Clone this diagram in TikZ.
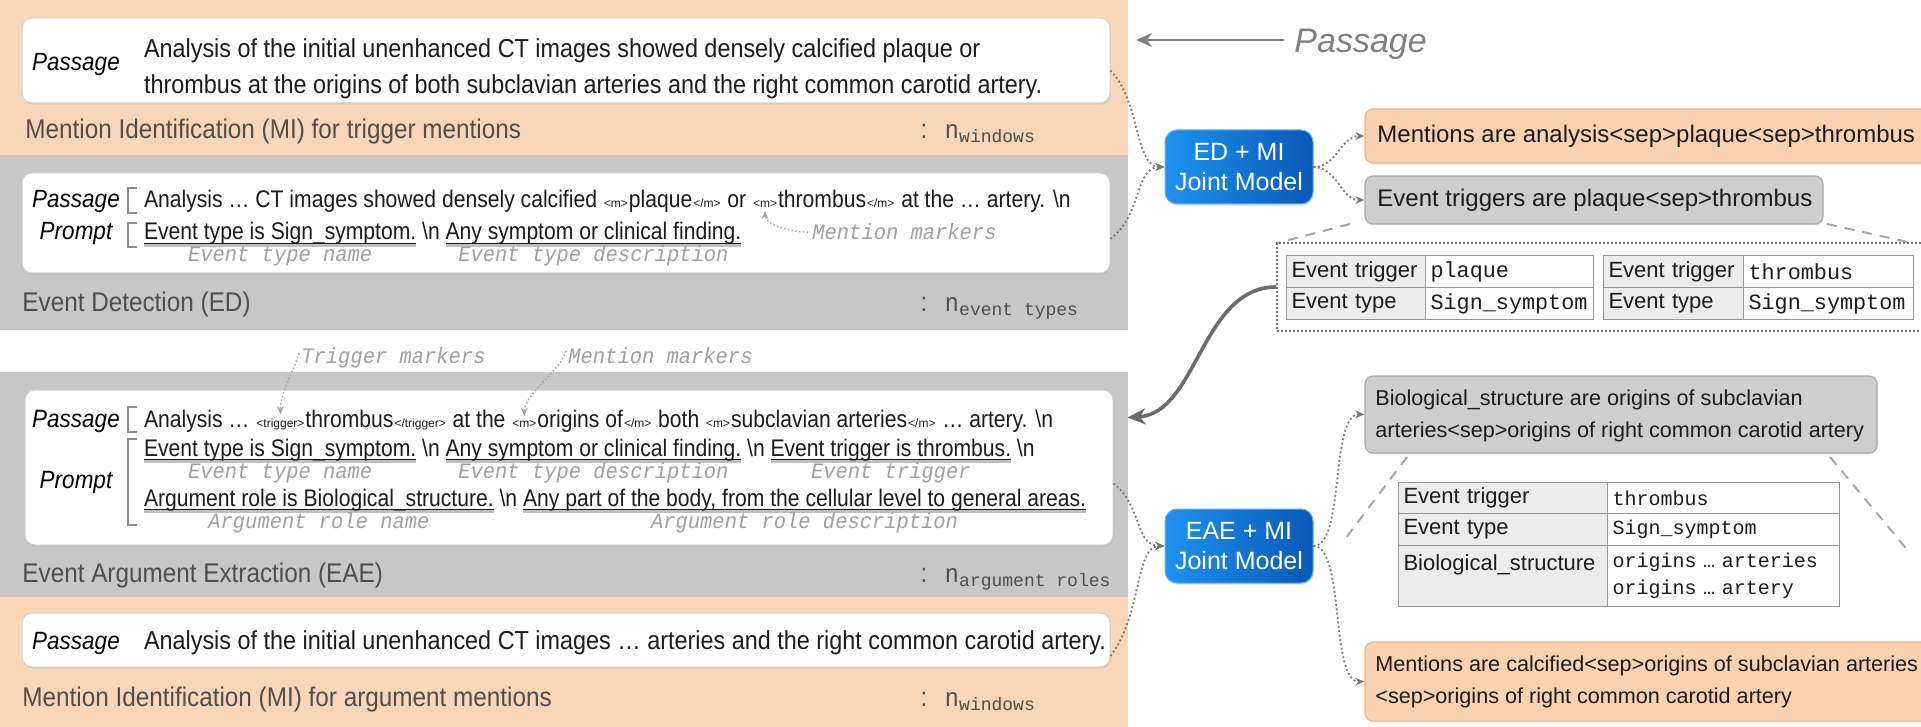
\documentclass[tikz,border=0pt]{standalone}
\usepackage{fontspec}
\setmainfont{Liberation Sans}
\newfontfamily\lfam[FakeStretch=0.9]{Liberation Sans}
\newfontfamily\lfamb[FakeStretch=0.88]{Liberation Sans}
\newfontfamily\rfam{Liberation Sans}
\newfontfamily\mfam{Liberation Mono}
\newfontfamily\afam[FakeStretch=0.93]{Liberation Mono}
\usetikzlibrary{arrows.meta,fit,shadows}

\definecolor{peach}{RGB}{249,214,184}
\definecolor{pgray}{RGB}{199,199,199}
\definecolor{txt}{RGB}{28,28,28}
\definecolor{hdrc}{RGB}{78,78,78}
\definecolor{annot}{RGB}{160,160,160}
\definecolor{blueL}{RGB}{30,146,240}
\definecolor{blueR}{RGB}{10,88,182}
\definecolor{resO}{RGB}{250,210,176}
\definecolor{resOb}{RGB}{236,182,142}
\definecolor{resG}{RGB}{206,206,206}
\definecolor{resGb}{RGB}{172,172,172}
\definecolor{cellhdr}{RGB}{236,236,236}
\definecolor{cellline}{RGB}{150,150,150}
\definecolor{conn}{RGB}{118,118,118}

\newcommand\myLt{\lfam\fontsize{13}{16}\selectfont}
\newcommand\myLs{\lfamb\fontsize{12}{15}\selectfont}
\newcommand\myTg{\rfam\fontsize{6}{7}\selectfont}
\newcommand\myAl{\afam\itshape\fontsize{11}{13}\selectfont}
\newcommand\myPl{\lfam\itshape\fontsize{12.5}{15}\selectfont}
\newcommand\myHd{\lfam\fontsize{13.5}{16}\selectfont}
\newcommand\mySb{\mfam\fontsize{9}{10}\selectfont}
\newcommand\myRt{\rfam\fontsize{12}{15}\selectfont}
\newcommand\myRs{\rfam\fontsize{10.8}{16}\selectfont}
\newcommand\myTh{\rfam\fontsize{11}{13.5}\selectfont}
\newcommand\myTv{\mfam\fontsize{10.9}{13.5}\selectfont}
\newcommand\myTvs{\mfam\fontsize{10}{13.5}\selectfont}
\newcommand\myBt{\rfam\fontsize{12.5}{15}\selectfont}
\newcommand\myPs{\rfam\itshape\fontsize{17}{20}\selectfont}
\newcommand\mygap{2.9pt}

\tikzset{
  seg/.style={anchor=base west, inner sep=0pt, outer sep=0pt, font=\myLt, text=txt},
  sg/.style={anchor=base west, inner sep=0pt, outer sep=0pt, font=\myLs, text=txt},
  tg/.style={anchor=base west, inner xsep=0.5pt, inner ysep=0pt, outer sep=0pt, font=\myTg, text=txt},
  lbl/.style={anchor=base, inner sep=0pt, font=\myAl, text=annot},
  albl/.style={anchor=base west, inner sep=0pt, font=\myAl, text=annot},
  plbl/.style={anchor=base, inner sep=0pt, font=\myPl, text=black},
  hdr/.style={anchor=base west, inner sep=0pt, font=\myHd, text=hdrc},
  nlbl/.style={anchor=base west, inner sep=0pt, font=\myLt, text=hdrc},
  sublbl/.style={anchor=base west, inner sep=0pt, font=\mySb, text=hdrc},
  colonlbl/.style={anchor=base, inner sep=0pt, font=\myHd, text=hdrc},
  wbox/.style={fill=white, draw=black!18, line width=0.5pt, rounded corners=5pt, inner sep=0pt,
    drop shadow={opacity=0.18, shadow xshift=0.4pt, shadow yshift=-0.8pt}},
  bluebox/.style={rounded corners=6pt, inner sep=0pt, left color=blueL, right color=blueR,
    draw=blueL!70!white, line width=0.5pt, drop shadow={opacity=0.25, shadow xshift=0.5pt, shadow yshift=-0.8pt}},
  bluetxt/.style={inner sep=0pt, align=center, font=\myBt, text=white},
  obox/.style={fill=resO, draw=resOb, line width=0.6pt, rounded corners=4pt, inner sep=0pt,
    drop shadow={opacity=0.15, shadow xshift=0.4pt, shadow yshift=-0.7pt}},
  gbox/.style={fill=resG, draw=resGb, line width=0.6pt, rounded corners=4pt, inner sep=0pt,
    drop shadow={opacity=0.15, shadow xshift=0.4pt, shadow yshift=-0.7pt}},
  rtxt/.style={anchor=west, inner sep=0pt, font=\myRt, text=txt},
  rstxt/.style={anchor=west, inner sep=0pt, align=left, font=\myRs, text=txt},
  dotbox/.style={draw=black!55, line width=0.8pt, dash pattern=on 0.8pt off 1.2pt, inner sep=0pt},
  hcell/.style={draw=cellline, fill=cellhdr, line width=0.5pt, anchor=north west, inner xsep=2.5pt,
    inner ysep=0pt, align=left, font=\myTh, text=txt},
  vcell/.style={draw=cellline, fill=white, line width=0.5pt, anchor=north west, inner xsep=2.5pt,
    inner ysep=0pt, align=left, font=\myTv, text=txt},
  dconn/.style={draw=conn, line width=0.9pt, dash pattern=on 0.9pt off 1.3pt, -{Stealth[length=4.5pt,width=3.8pt]}},
  sarrow/.style={draw=black!58, line width=1.8pt, -{Stealth[length=9pt,width=8pt]}},
  parrow/.style={draw=black!50, line width=1.4pt, -{Stealth[length=8pt,width=7pt]}},
  zline/.style={draw=black!35, line width=1pt, dash pattern=on 5pt off 4pt},
  aarrow/.style={draw=annot, line width=0.7pt, dash pattern=on 0.7pt off 1.2pt, -{Stealth[length=4pt,width=3.2pt]}},
  brk/.style={draw=black!45, line width=0.7pt},
  shd/.style={draw=black!50, line width=1.4pt, opacity=0.5},
  uln/.style={draw=txt, line width=0.5pt},
}

\begin{document}
\begin{tikzpicture}[x=0.5pt,y=-0.5pt]
\useasboundingbox (0,0) rectangle (1921,727);
\fill[white] (0,0) rectangle (1921,727);

% ---------------- left panels
\fill[peach] (0,0) rectangle (1128,155);
\fill[pgray] (0,155) rectangle (1128,330);
\fill[pgray] (0,372) rectangle (1128,597);
\fill[peach] (0,597) rectangle (1128,727);

\node[wbox, fit={(22,18) (1110,103)}] (b1) {};
\node[wbox, fit={(22,173) (1110,273)}] (b2) {};
\node[wbox, fit={(25,390) (1113,545)}] (b3) {};
\node[wbox, fit={(22,613) (1110,667)}] (b4) {};

% ---- box 1 (MI trigger)
\node[plbl] (pl1) at (76,71) {Passage};
\node[seg] (p1a) at (144,58) {Analysis of the initial unenhanced CT images showed densely calcified plaque or};
\node[seg] (p1b) at (144,94) {thrombus at the origins of both subclavian arteries and the right common carotid artery.};
\node[hdr] (mi1) at (25,139) {Mention Identification (MI) for trigger mentions};
\node[colonlbl] (c1) at (924,139) {:};
\node[nlbl] (n1) at (945,139) {n};
\node[sublbl] (s1) at ([yshift=-2pt]n1.base east) {windows};

% ---- box 2 (ED)
\node[plbl] (pl2) at (76,208) {Passage};
\node[plbl] (pr2) at (76,240) {Prompt};
\draw[brk] (137,188) -- (128,188) -- (128,213) -- (137,213);
\draw[brk] (137,223) -- (128,223) -- (128,247) -- (137,247);
\node[sg] (e1) at (144,208) {Analysis … CT images showed densely calcified};
\node[tg] (e2) at ([xshift=\mygap]e1.base east) {<m>};
\node[sg] (e3) at (e2.base east) {plaque};
\node[tg] (e4) at (e3.base east) {</m>};
\node[sg] (e5) at ([xshift=\mygap]e4.base east) {or};
\node[tg] (e6) at ([xshift=\mygap]e5.base east) {<m>};
\node[sg] (e7) at (e6.base east) {thrombus};
\node[tg] (e8) at (e7.base east) {</m>};
\node[sg] (e9) at ([xshift=\mygap]e8.base east) {at the … artery. \textbackslash n};
\node[sg] (f1) at (144,240) {Event type is Sign\_symptom.};
\node[sg] (f2) at ([xshift=\mygap]f1.base east) {\textbackslash n};
\node[sg] (f3) at ([xshift=\mygap]f2.base east) {Any symptom or clinical finding.};
\foreach \u in {f1,f3} {
  \draw[shd] ([yshift=-2.7pt]\u.base west) -- ([yshift=-2.7pt]\u.base east);
  \draw[uln] ([yshift=-1.6pt]\u.base west) -- ([yshift=-1.6pt]\u.base east);
}
\node[lbl] (g1) at ([yshift=-11pt]f1.base) {Event type name};
\node[lbl] (g2) at ([yshift=-11pt]f3.base) {Event type description};
\node[albl] (g3) at (812,240) {Mention markers};
\draw[aarrow] ([xshift=-2pt]g3.west) .. controls +(-16,0) and +(0,14) .. ([yshift=-1.5pt]e6.south);
\node[hdr] (ed) at (22,311) {Event Detection (ED)};
\node[colonlbl] (c2) at (924,311) {:};
\node[nlbl] (n2) at (945,311) {n};
\node[sublbl] (s2) at ([yshift=-2pt]n2.base east) {event types};

% ---- gap annotations
\node[albl] (tm) at (301,363) {Trigger markers};
\node[albl] (mm) at (568,363) {Mention markers};

% ---- box 3 (EAE)
\node[plbl] (pl3) at (76,427) {Passage};
\node[plbl] (pr3) at (76,488) {Prompt};
\draw[brk] (137,407) -- (128,407) -- (128,432) -- (137,432);
\draw[brk] (137,439) -- (128,439) -- (128,525) -- (137,525);
\node[sg] (h1) at (144,427) {Analysis …};
\node[tg] (h2) at ([xshift=\mygap]h1.base east) {<trigger>};
\node[sg] (h3) at (h2.base east) {thrombus};
\node[tg] (h4) at (h3.base east) {</trigger>};
\node[sg] (h5) at ([xshift=\mygap]h4.base east) {at the};
\node[tg] (h6) at ([xshift=\mygap]h5.base east) {<m>};
\node[sg] (h7) at (h6.base east) {origins of};
\node[tg] (h8) at (h7.base east) {</m>};
\node[sg] (h9) at ([xshift=\mygap]h8.base east) {both};
\node[tg] (h10) at ([xshift=\mygap]h9.base east) {<m>};
\node[sg] (h11) at (h10.base east) {subclavian arteries};
\node[tg] (h12) at (h11.base east) {</m>};
\node[sg] (h13) at ([xshift=\mygap]h12.base east) {… artery. \textbackslash n};
\draw[aarrow] ([xshift=-1pt,yshift=2pt]tm.west) .. controls +(-6,20) and +(0,-22) .. ([yshift=2pt]h2.north);
\draw[aarrow] ([xshift=-1pt,yshift=2pt]mm.west) .. controls +(-6,20) and +(0,-22) .. ([yshift=2pt]h6.north);

\node[sg] (k1) at (144,456) {Event type is Sign\_symptom.};
\node[sg] (k2) at ([xshift=\mygap]k1.base east) {\textbackslash n};
\node[sg] (k3) at ([xshift=\mygap]k2.base east) {Any symptom or clinical finding.};
\node[sg] (k4) at ([xshift=\mygap]k3.base east) {\textbackslash n};
\node[sg] (k5) at ([xshift=\mygap]k4.base east) {Event trigger is thrombus.};
\node[sg] (k6) at ([xshift=\mygap]k5.base east) {\textbackslash n};
\node[sg] (k7) at (144,506) {Argument role is Biological\_structure.};
\node[sg] (k8) at ([xshift=\mygap]k7.base east) {\textbackslash n};
\node[sg] (k9) at ([xshift=\mygap]k8.base east) {Any part of the body, from the cellular level to general areas.};
\foreach \u in {k1,k3,k5,k7,k9} {
  \draw[shd] ([yshift=-2.7pt]\u.base west) -- ([yshift=-2.7pt]\u.base east);
  \draw[uln] ([yshift=-1.6pt]\u.base west) -- ([yshift=-1.6pt]\u.base east);
}
\node[lbl] (q1) at ([yshift=-11pt]k1.base) {Event type name};
\node[lbl] (q2) at ([yshift=-11pt]k3.base) {Event type description};
\node[lbl] (q3) at ([yshift=-11pt]k5.base) {Event trigger};
\node[lbl] (q4) at ([yshift=-11pt]k7.base) {Argument role name};
\node[lbl] (q5) at ([yshift=-11pt]k9.base) {Argument role description};
\node[hdr] (eae) at (22,582) {Event Argument Extraction (EAE)};
\node[colonlbl] (c3) at (924,582) {:};
\node[nlbl] (n3) at (945,582) {n};
\node[sublbl] (s3) at ([yshift=-2pt]n3.base east) {argument roles};

% ---- box 4 (MI argument)
\node[plbl] (pl4) at (76,649) {Passage};
\node[seg] (p4) at (144,649) {Analysis of the initial unenhanced CT images … arteries and the right common carotid artery.};
\node[hdr] (mi2) at (22,706) {Mention Identification (MI) for argument mentions};
\node[colonlbl] (c4) at (924,706) {:};
\node[nlbl] (n4) at (945,706) {n};
\node[sublbl] (s4) at ([yshift=-2pt]n4.base east) {windows};

% ---------------- right side
\node[anchor=base west, inner sep=0pt, font=\myPs, text=black!50] (ptxt) at (1294,53) {Passage};
\coordinate (pa) at (1136,40);
\draw[parrow] ([xshift=-5pt]ptxt.west |- pa) -- (pa);

\node[bluebox, fit={(1165,130) (1313,204)}] (edmi) {};
\node[bluetxt] (edmit) at (edmi.center) {ED + MI\\Joint Model};
\node[obox, fit={(1365,109) (1935,163)}] (men1) {};
\node[rtxt] (men1t) at (1377,136) {Mentions are analysis<sep>plaque<sep>thrombus};
\node[gbox, fit={(1365,176) (1823,224)}] (trg) {};
\node[rtxt] (trgt) at (1377,200) {Event triggers are plaque<sep>thrombus};

\coordinate (z1a) at (1350,224); \coordinate (z1b) at (1277,243);
\coordinate (z2a) at (1827,224); \coordinate (z2b) at (1912,243);
\draw[zline] (z1a) -- (z1b);
\draw[zline] (z2a) -- (z2b);

\node[dotbox, fit={(1277,243) (1935,331)}] (dbox) {};
\node[hcell, text width=64.5pt, minimum height=16pt] (ta1) at (1286,255) {Event trigger};
\node[vcell, text width=79pt, minimum height=16pt] (ta2) at (1425,255) {plaque};
\node[hcell, text width=64.5pt, minimum height=16pt] (ta3) at (1286,287) {Event type};
\node[vcell, text width=79pt, minimum height=16pt] (ta4) at (1425,287) {Sign\_symptom};
\node[hcell, text width=65pt, minimum height=16pt] (tb1) at (1603,255) {Event trigger};
\node[vcell, text width=80pt, minimum height=16pt] (tb2) at (1743,255) {thrombus};
\node[hcell, text width=65pt, minimum height=16pt] (tb3) at (1603,287) {Event type};
\node[vcell, text width=80pt, minimum height=16pt] (tb4) at (1743,287) {Sign\_symptom};

\node[bluebox, fit={(1165,509) (1313,583)}] (eaemi) {};
\node[bluetxt] (eaemit) at (eaemi.center) {EAE + MI\\Joint Model};
\node[gbox, fit={(1365,376) (1877,453)}] (bio) {};
\node[rstxt] (biot) at (1375,416) {Biological\_structure are origins of subclavian\\arteries<sep>origins of right common carotid artery};

\coordinate (z3a) at (1407,457); \coordinate (z3b) at (1342,543);
\coordinate (z4a) at (1830,457); \coordinate (z4b) at (1910,553);
\draw[zline] (z3a) -- (z3b);
\draw[zline] (z4a) -- (z4b);

\node[hcell, text width=99.5pt, minimum height=15.5pt] (tc1) at (1398,482) {Event trigger};
\node[vcell, text width=111pt, minimum height=15.5pt, font=\myTvs] (tc2) at (1607,482) {thrombus};
\node[hcell, text width=99.5pt, minimum height=16pt] (tc3) at (1398,513) {Event type};
\node[vcell, text width=111pt, minimum height=16pt, font=\myTvs] (tc4) at (1607,513) {Sign\_symptom};
\node[hcell, text width=99.5pt, minimum height=30.5pt] (tc5) at (1398,545) {Biological\_structure\\\mbox{}};
\node[vcell, text width=111pt, minimum height=30.5pt, font=\myTvs] (tc6) at (1607,545) {origins … arteries\\origins … artery};

\node[obox, fit={(1365,642) (1935,721)}] (men2) {};
\node[rstxt] (men2t) at (1375,682) {Mentions are calcified<sep>origins of subclavian arteries\\<sep>origins of right common carotid artery};

% ---------------- connectors
\draw[dconn] ([yshift=-5pt]b1.east) .. controls (1140,100) and (1135,167) .. (edmi.west);
\draw[dconn] ([yshift=-8pt]b2.east) .. controls (1142,215) and (1135,167) .. (edmi.west);
\draw[dconn] ([yshift=-8pt]b3.east) .. controls (1142,505) and (1135,546) .. (eaemi.west);
\draw[dconn] ([yshift=-8pt]b4.east) .. controls (1142,615) and (1135,546) .. (eaemi.west);
\draw[dconn] (edmi.east) to[out=0,in=180] (men1.west);
\draw[dconn] (edmi.east) to[out=0,in=180] (trg.west);
\draw[dconn] (eaemi.east) .. controls (1345,546) and (1330,414) .. (bio.west);
\draw[dconn] (eaemi.east) .. controls (1345,546) and (1330,682) .. (men2.west);
\draw[sarrow] (dbox.west) .. controls +(-75,0) and +(70,-4) .. ([xshift=7pt,yshift=25pt]b3.east);
\end{tikzpicture}
\end{document}
